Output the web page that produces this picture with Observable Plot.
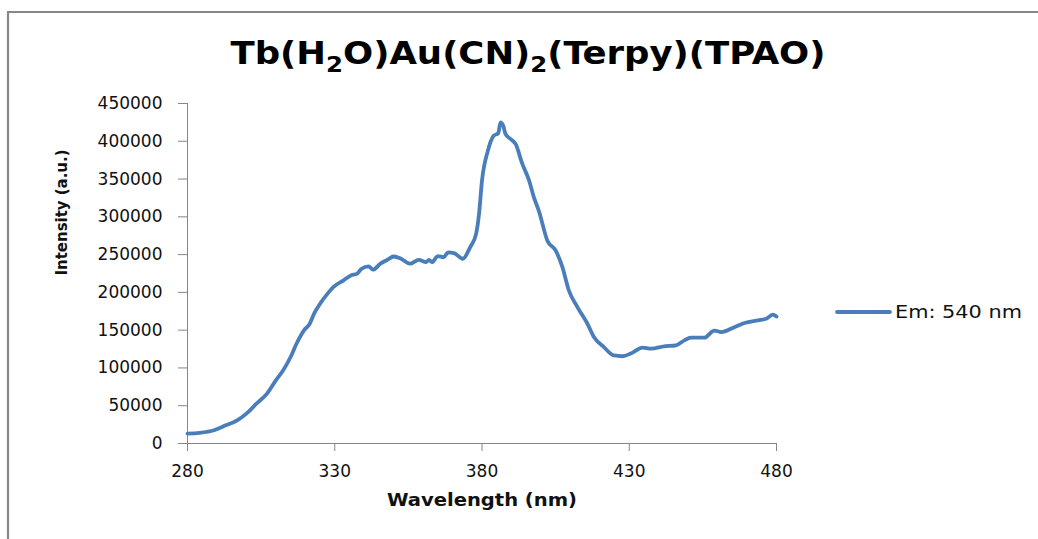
<!DOCTYPE html>
<html>
<head>
<meta charset="utf-8">
<script src="https://cdn.jsdelivr.net/npm/d3@7"></script>
<script src="https://cdn.jsdelivr.net/npm/@observablehq/plot@0.6"></script>
<style>
  html, body { margin: 0; padding: 0; background: #fff; }
  #chart { width: 1038px; height: 539px; }
</style>
</head>
<body>
<div id="chart"></div>
<script>
// Emission spectrum, excitation monitored at 540 nm
const wavelength = [
  280, 284, 289, 293, 297, 300, 303.5, 307, 310, 312.5,
  315, 317, 319.5, 321.5, 323, 325, 327.5, 329.5, 333, 335.5,
  337.5, 339, 341.5, 343, 345.5, 348, 350, 352.5, 355.5, 358.5,
  361, 362, 363, 365, 367, 368.5, 370.5, 373.5, 376, 378,
  379, 380, 382, 384, 385.5, 386.3, 387.2, 388, 389.7, 391.4,
  393.7, 396, 397.6, 399.3, 402.2, 405, 407.3, 409.5, 412.4, 415.8,
  418, 421.4, 424.8, 427.7, 430.5, 434.5, 437.4, 441.8, 445.9, 448.7,
  450.9, 455.5, 458.9, 461.2, 465.7, 469.1, 473.7, 476.5, 478.7, 480
];
const intensity = [
  13000, 14000, 17500, 24000, 31000, 39500, 53000, 66000, 83500, 97000,
  114500, 132000, 149500, 158500, 172000, 185000, 198000, 207000, 216000, 222500,
  224500, 231000, 234500, 230000, 238000, 243500, 247500, 244500, 238000, 243000,
  240000, 243000, 240000, 248000, 246500, 253000, 252000, 244500, 260000, 277500,
  304000, 348000, 387500, 407500, 410500, 425000, 420500, 409500, 403000, 396500,
  370000, 348000, 326000, 308000, 268500, 255500, 233500, 202500, 180500, 158500,
  141000, 127500, 116500, 115500, 119000, 127000, 125500, 128500, 130000, 136500,
  140000, 140000, 149500, 147500, 154000, 159500, 163000, 165000, 170500, 168000
];
const xTicks = [280, 330, 380, 430, 480];
const yTicks = [0, 50000, 100000, 150000, 200000, 250000, 300000, 350000, 400000, 450000];
const seriesName = "Em: 540 nm";
const xLabel = "Wavelength (nm)";
const yLabel = "Intensity (a.u.)";

const data = wavelength.map((w, i) => ({wl: w, value: intensity[i]}));

const lineColor = "#4a7ebb";
const axisColor = "#868686";
const condensed = "DejaVu Sans Condensed";

const chart = Plot.plot({
  width: 1038,
  height: 539,
  marginLeft: 187,
  marginRight: 262,
  marginTop: 103,
  marginBottom: 96,
  style: {fontFamily: "DejaVu Sans", fontSize: "17px", color: "#111", background: "#fff"},
  x: {domain: [280, 480]},
  y: {domain: [0, 450000]},
  marks: [
    Plot.axisY({ticks: yTicks, tickSize: 9, tickPadding: 16, tickFormat: d3.format("d"),
                label: null, stroke: axisColor, fontSize: 17}),
    Plot.axisX({ticks: xTicks, tickSize: 8, tickPadding: 13, tickFormat: d3.format("d"),
                label: null, stroke: axisColor, fontSize: 17}),
    Plot.ruleX([280], {y1: 0, y2: 450000, stroke: axisColor}),
    Plot.ruleY([0], {x1: 280, x2: 480, stroke: axisColor}),
    Plot.lineY(data, {x: "wl", y: "value", curve: "monotone-x", stroke: lineColor,
                      strokeWidth: 3.8, strokeLinejoin: "round", strokeLinecap: "round"}),
    Plot.text([yLabel], {frameAnchor: "left", dx: -126, dy: 2, rotate: -90,
                         fontFamily: condensed, fontWeight: "bold", fontSize: 16, fill: "#111"}),
    Plot.text([xLabel], {frameAnchor: "bottom", dy: 62, fontFamily: condensed,
                         fontWeight: "bold", fontSize: 18, fill: "#111"})
  ]
});

document.getElementById("chart").appendChild(chart);

const svg = d3.select(chart);

// stretch the axis titles to the chart's lettering width
svg.selectAll("text").filter(function () { return this.textContent === xLabel; })
  .attr("textLength", 190).attr("lengthAdjust", "spacingAndGlyphs");
svg.selectAll("text").filter(function () { return this.textContent === yLabel; })
  .attr("textLength", 126).attr("lengthAdjust", "spacingAndGlyphs");

// chart-area border (top and left edges)
svg.append("path")
  .attr("d", "M8,539V12H1038")
  .attr("fill", "none")
  .attr("stroke", "#878787")
  .attr("stroke-width", 2.2);

// title with subscripts
const title = svg.append("text")
  .attr("x", 528)
  .attr("y", 64)
  .attr("text-anchor", "middle")
  .attr("font-family", condensed)
  .attr("font-weight", "bold")
  .attr("font-size", 32)
  .attr("fill", "#000")
  .attr("textLength", 595)
  .attr("lengthAdjust", "spacingAndGlyphs");
const parts = [["Tb(H", 0], ["2", 1], ["O)Au(CN)", 0], ["2", 1], ["(Terpy)(TPAO)", 0]];
let prevSub = 0;
for (const [t, sub] of parts) {
  title.append("tspan")
    .attr("dy", (sub - prevSub) * 8)
    .attr("font-size", sub ? 22 : 32)
    .text(t);
  prevSub = sub;
}

// legend
const legend = svg.append("g");
legend.append("line")
  .attr("x1", 837).attr("x2", 890)
  .attr("y1", 312).attr("y2", 312)
  .attr("stroke", lineColor)
  .attr("stroke-width", 3.8)
  .attr("stroke-linecap", "round");
legend.append("text")
  .attr("x", 895)
  .attr("y", 312)
  .attr("dy", "0.36em")
  .attr("text-anchor", "start")
  .attr("font-family", "DejaVu Sans")
  .attr("font-size", 17)
  .attr("fill", "#111")
  .attr("textLength", 127)
  .attr("lengthAdjust", "spacingAndGlyphs")
  .text(seriesName);
</script>
</body>
</html>
